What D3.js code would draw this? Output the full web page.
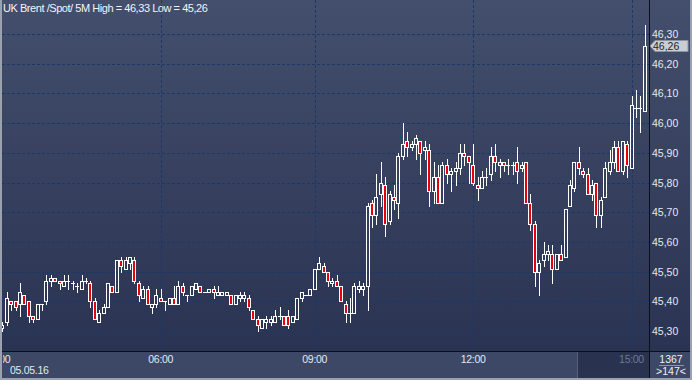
<!DOCTYPE html>
<html>
<head>
<meta charset="utf-8">
<script src="https://cdn.jsdelivr.net/npm/d3@7/dist/d3.min.js"></script>
<style>
  body { margin: 0; background: #3a4662; }
  svg { display: block; font-family: "Liberation Sans", Arial, sans-serif; }
</style>
</head>
<body>
<svg id="chart" width="692" height="380"></svg>
<script>
// 5M candles, UK Brent spot, 05.05.16
const opens = [45.31,45.33,45.40,45.40,45.39,45.42,45.40,45.35,45.34,45.39,
  45.40,45.47,45.48,45.47,45.45,45.47,45.46,45.45,45.44,45.47,
  45.46,45.40,45.33,45.36,45.38,45.45,45.43,45.54,45.51,45.53,
  45.54,45.46,45.41,45.44,45.38,45.39,45.41,45.40,45.39,45.41,
  45.39,45.45,45.42,45.42,45.44,45.45,45.43,45.43,45.44,45.42,
  45.42,45.42,45.42,45.39,45.41,45.41,45.41,45.37,45.34,45.31,
  45.33,45.33,45.33,45.35,45.35,45.35,45.33,45.34,45.41,45.42,
  45.42,45.44,45.51,45.52,45.50,45.46,45.47,45.45,45.39,45.36,
  45.36,45.44,45.44,45.45,45.73,45.69,45.76,45.79,45.67,45.75,
  45.73,45.89,45.94,45.92,45.93,45.94,45.91,45.91,45.77,45.82,
  45.73,45.86,45.83,45.84,45.85,45.90,45.89,45.86,45.79,45.78,
  45.82,45.83,45.89,45.86,45.87,45.86,45.86,45.87,45.85,45.87,
  45.73,45.66,45.50,45.54,45.56,45.56,45.51,45.56,45.55,45.72,
  45.78,45.87,45.84,45.83,45.76,45.80,45.69,45.75,45.84,45.87,
  45.92,45.84,45.93,45.85,46.05,46.05,46.04];
const highs = [45.33,45.43,45.40,45.40,45.46,45.42,45.40,45.35,45.39,45.39,
  45.49,45.49,45.48,45.47,45.49,45.49,45.47,45.46,45.49,45.48,
  45.47,45.41,45.37,45.39,45.46,45.45,45.54,45.55,45.55,45.55,
  45.55,45.47,45.45,45.45,45.39,45.44,45.44,45.40,45.41,45.45,
  45.47,45.46,45.42,45.45,45.46,45.45,45.43,45.44,45.45,45.45,
  45.43,45.43,45.42,45.42,45.43,45.43,45.42,45.37,45.35,45.34,
  45.35,45.35,45.37,45.38,45.35,45.37,45.35,45.41,45.43,45.42,
  45.44,45.51,45.55,45.53,45.50,45.48,45.49,45.45,45.40,45.41,
  45.46,45.47,45.46,45.73,45.74,45.83,45.87,45.82,45.77,45.79,
  45.90,46.00,45.97,45.94,45.96,45.94,45.94,45.93,45.87,45.86,
  45.87,45.88,45.85,45.87,45.93,45.93,45.89,45.93,45.82,45.84,
  45.85,45.92,45.93,45.88,45.87,45.88,45.87,45.92,45.87,45.87,
  45.76,45.67,45.54,45.60,45.59,45.59,45.56,45.59,45.71,45.81,
  45.87,45.92,45.85,45.85,45.81,45.80,45.75,45.87,45.91,45.94,
  45.94,45.94,45.94,46.09,46.11,46.09,46.33];
const lows = [45.30,45.32,45.37,45.37,45.35,45.39,45.33,45.33,45.34,45.37,
  45.39,45.45,45.47,45.44,45.45,45.44,45.44,45.43,45.44,45.46,
  45.38,45.34,45.33,45.36,45.38,45.43,45.43,45.50,45.51,45.51,
  45.46,45.40,45.41,45.39,45.36,45.38,45.40,45.37,45.39,45.39,
  45.39,45.42,45.40,45.42,45.44,45.43,45.43,45.43,45.41,45.42,
  45.42,45.42,45.39,45.39,45.40,45.40,45.37,45.34,45.30,45.31,
  45.31,45.32,45.33,45.34,45.32,45.31,45.33,45.34,45.40,45.42,
  45.42,45.44,45.51,45.50,45.45,45.45,45.45,45.40,45.33,45.33,
  45.36,45.43,45.42,45.37,45.65,45.66,45.72,45.62,45.66,45.71,
  45.68,45.88,45.89,45.91,45.88,45.83,45.88,45.72,45.73,45.73,
  45.73,45.80,45.77,45.79,45.83,45.86,45.80,45.79,45.74,45.78,
  45.79,45.81,45.84,45.82,45.84,45.83,45.83,45.80,45.84,45.73,
  45.64,45.45,45.42,45.52,45.54,45.46,45.51,45.54,45.55,45.72,
  45.77,45.83,45.82,45.76,45.74,45.65,45.65,45.75,45.83,45.85,
  45.84,45.83,45.82,45.85,46.02,45.97,46.04];
const closes = [45.32,45.41,45.39,45.38,45.43,45.39,45.35,45.34,45.39,45.39,
  45.47,45.48,45.47,45.46,45.47,45.47,45.46,45.45,45.47,45.47,
  45.40,45.34,45.36,45.38,45.46,45.43,45.54,45.52,45.54,45.55,
  45.47,45.42,45.44,45.39,45.39,45.42,45.40,45.40,45.41,45.39,
  45.45,45.43,45.42,45.45,45.46,45.43,45.43,45.44,45.43,45.43,
  45.43,45.43,45.39,45.42,45.42,45.42,45.38,45.34,45.32,45.34,
  45.34,45.34,45.35,45.35,45.32,45.32,45.35,45.41,45.43,45.42,
  45.44,45.51,45.53,45.50,45.47,45.47,45.45,45.40,45.36,45.36,
  45.45,45.45,45.45,45.72,45.69,45.75,45.80,45.66,45.76,45.74,
  45.89,45.93,45.92,45.93,45.95,45.90,45.92,45.77,45.82,45.73,
  45.86,45.83,45.84,45.85,45.90,45.89,45.87,45.80,45.78,45.82,
  45.82,45.89,45.87,45.87,45.86,45.86,45.86,45.84,45.86,45.73,
  45.66,45.50,45.53,45.56,45.57,45.51,45.56,45.54,45.71,45.79,
  45.87,45.85,45.83,45.76,45.79,45.69,45.74,45.85,45.87,45.92,
  45.84,45.94,45.86,46.06,46.05,46.05,46.26];

// time labels sit on these candle indexes
const tickIdx = [-1, 36, 71, 107, 143];
const tickLabels = ["03:00", "06:00", "09:00", "12:00", "15:00"];
const gridIdx = [36, 71, 107, 143];

const title = "UK Brent /Spot/ 5M High = 46,33 Low = 45,26",
      dateLabel = "05.05.16",
      lastLabel = "46,26",
      countTop = "1367",
      countBottom = ">147<";

const W = 692, H = 380,
      plotL = 2, plotR = 649, plotB = 351,
      upColor = "none", downColor = "#e5000c";

const svg = d3.select("#chart");
const defs = svg.append("defs");

const bg = defs.append("linearGradient").attr("id", "bg").attr("x1", 0).attr("y1", 0).attr("x2", 0).attr("y2", 1);
bg.append("stop").attr("offset", "0%").attr("stop-color", "#434f6c");
bg.append("stop").attr("offset", "100%").attr("stop-color", "#2a3352");

defs.append("clipPath").attr("id", "plotClip")
  .append("rect").attr("x", plotL).attr("y", 0).attr("width", plotR - plotL).attr("height", plotB);

// background
svg.append("rect").attr("x", 0).attr("y", 0).attr("width", W).attr("height", plotB).attr("fill", "url(#bg)");
svg.append("rect").attr("x", 0).attr("y", plotB).attr("width", W).attr("height", H - plotB).attr("fill", "#3c4865");

const x = d3.scaleLinear().domain([0, opens.length - 1]).range([2.3, 644.7]);
const y = d3.scaleLinear().domain([45.30, 46.30]).range([331, 34]);
const fmt = v => d3.format(".2f")(v).replace(".", ",");

const plot = svg.append("g").attr("clip-path", "url(#plotClip)");

// grid
plot.append("g").selectAll("line").data(y.ticks(10)).join("line")
  .attr("x1", plotL).attr("x2", plotR)
  .attr("y1", d => Math.round(y(d)) + 0.5).attr("y2", d => Math.round(y(d)) + 0.5)
  .attr("stroke", "#1c3868").attr("stroke-dasharray", "3,2");
plot.append("g").selectAll("line").data(gridIdx).join("line")
  .attr("x1", d => Math.round(x(d)) + 0.5).attr("x2", d => Math.round(x(d)) + 0.5)
  .attr("y1", 0).attr("y2", plotB)
  .attr("stroke", "#1c3868").attr("stroke-dasharray", "3,2");

// candles
const candles = d3.range(opens.length).map(i => ({
  i, o: opens[i], h: highs[i], l: lows[i], c: closes[i]
}));

const cg = plot.append("g").selectAll("g").data(candles).join("g")
  .attr("transform", d => `translate(${Math.round(x(d.i))},0)`);

cg.each(function(d) {
  const g = d3.select(this);
  const top = Math.round(y(Math.max(d.o, d.c))),
        bot = Math.round(y(Math.min(d.o, d.c))),
        hi = Math.round(y(d.h)),
        lo = Math.round(y(d.l));
  if (hi < top) g.append("line").attr("x1", 0.5).attr("x2", 0.5).attr("y1", hi).attr("y2", top).attr("stroke", "#fff");
  if (lo > bot) g.append("line").attr("x1", 0.5).attr("x2", 0.5).attr("y1", bot + 1).attr("y2", lo + 1).attr("stroke", "#fff");
  if (bot - top < 1) {
    g.append("line").attr("x1", -2).attr("x2", 2).attr("y1", top + 0.5).attr("y2", top + 0.5).attr("stroke", "#fff");
  } else {
    g.append("rect").attr("x", -1.5).attr("y", top + 0.5).attr("width", 3).attr("height", bot - top)
      .attr("fill", d.c < d.o ? downColor : upColor).attr("stroke", "#fff");
  }
});

// title
svg.append("text").attr("x", 3).attr("y", 12).attr("fill", "#f2f4f8")
  .attr("font-size", 11).attr("letter-spacing", -0.45).text(title);

// frame lines
svg.append("line").attr("x1", 0).attr("x2", W).attr("y1", plotB + 0.5).attr("y2", plotB + 0.5).attr("stroke", "#0b0f18");
svg.append("line").attr("x1", plotR + 0.5).attr("x2", plotR + 0.5).attr("y1", 0).attr("y2", H).attr("stroke", "#0b0f18");

// right price axis
const ax = svg.append("g");
ax.selectAll("text").data(y.ticks(10)).join("text")
  .attr("x", 652).attr("y", d => y(d) + 4)
  .attr("fill", "#e4e8ef").attr("font-size", 10.5).text(fmt);

// last price marker
const ly = Math.round(y(closes[closes.length - 1]));
ax.append("path")
  .attr("d", `M650,${ly} L655,${ly - 5.5} L688,${ly - 5.5} L688,${ly + 5.5} L655,${ly + 5.5} Z`)
  .attr("fill", "#c9cdd4").attr("stroke", "#8b93a1");
ax.append("text").attr("x", 653).attr("y", ly + 4).attr("fill", "#1f2430")
  .attr("font-size", 10.5).text(lastLabel);

// time axis
const tx = svg.append("g");
tx.append("rect").attr("x", 577).attr("y", plotB + 1).attr("width", plotR - 577).attr("height", H - plotB - 3)
  .attr("fill", "#29324f");
tx.append("line").attr("x1", 577.5).attr("x2", 577.5).attr("y1", plotB + 1).attr("y2", H - 2).attr("stroke", "#56607a");
tx.append("g").attr("clip-path", "url(#axClip)");
defs.append("clipPath").attr("id", "axClip")
  .append("rect").attr("x", plotL + 1).attr("y", plotB).attr("width", plotR - plotL - 1).attr("height", H - plotB);
tx.select("g").selectAll("text").data(tickIdx).join("text")
  .attr("x", d => x(d)).attr("y", 363).attr("text-anchor", "middle")
  .attr("font-size", 10.5).attr("letter-spacing", -0.3)
  .attr("fill", (d, k) => k === tickIdx.length - 1 ? "#6e7a93" : "#e4e8ef")
  .text((d, k) => tickLabels[k]);
tx.append("text").attr("x", 10).attr("y", 374).attr("font-size", 10.5).attr("letter-spacing", -0.3)
  .attr("fill", "#e4e8ef").text(dateLabel);

// count box
svg.append("text").attr("x", 671).attr("y", 363).attr("text-anchor", "middle")
  .attr("font-size", 10.5).attr("fill", "#eef1f5").text(countTop);
svg.append("line").attr("x1", 659).attr("x2", 684).attr("y1", 365.5).attr("y2", 365.5).attr("stroke", "#8e96a6");
svg.append("text").attr("x", 671).attr("y", 375).attr("text-anchor", "middle")
  .attr("font-size", 10.5).attr("fill", "#eef1f5").text(countBottom);

// outer border
svg.append("rect").attr("x", 0).attr("y", 0).attr("width", 2).attr("height", H).attr("fill", "#9aa2b0");
svg.append("rect").attr("x", W - 2).attr("y", 0).attr("width", 2).attr("height", H).attr("fill", "#9aa2b0");
svg.append("rect").attr("x", 0).attr("y", H - 2).attr("width", W).attr("height", 2).attr("fill", "#9aa2b0");
</script>
</body>
</html>
